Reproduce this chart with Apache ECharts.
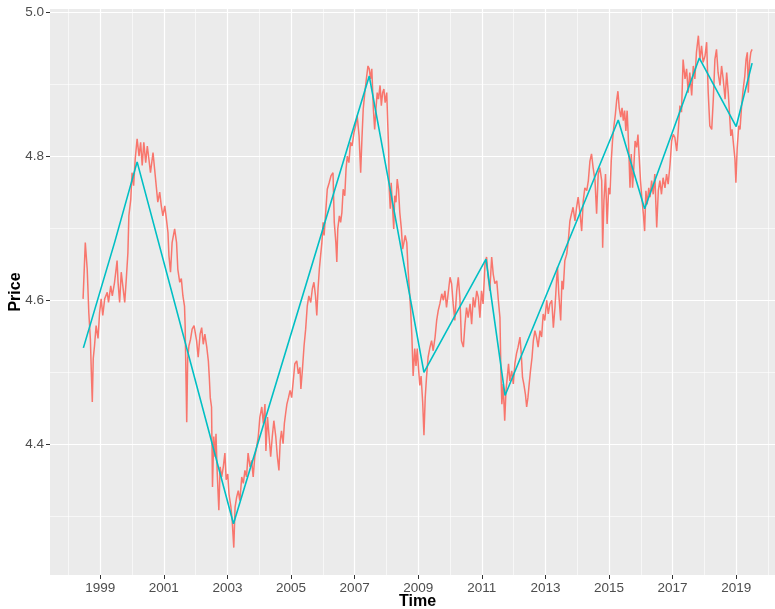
<!DOCTYPE html>
<html>
<head>
<meta charset="utf-8">
<style>
  html, body { margin: 0; padding: 0; background: #fff; }
  #chart { width: 775px; height: 609px; }
</style>
<script src="https://cdn.jsdelivr.net/npm/echarts@6/dist/echarts.min.js"></script>
</head>
<body>
<div id="chart"></div>
<script>
// daily price (roughly every 0.05 yr)
const priceYears = [
  1998.46, 1998.53, 1998.59, 1998.61, 1998.64, 1998.69, 1998.72, 1998.75, 1998.78, 1998.82,
  1998.87, 1998.93, 1998.98, 1999.03, 1999.08, 1999.14, 1999.22, 1999.26, 1999.33, 1999.38,
  1999.45, 1999.53, 1999.56, 1999.61, 1999.66, 1999.71, 1999.77, 1999.82, 1999.87, 1999.90,
  1999.96, 2000.00, 2000.05, 2000.10, 2000.16, 2000.22, 2000.27, 2000.32, 2000.37, 2000.43,
  2000.48, 2000.53, 2000.58, 2000.66, 2000.71, 2000.76, 2000.81, 2000.87, 2000.92, 2000.97,
  2001.03, 2001.08, 2001.13, 2001.16, 2001.21, 2001.26, 2001.34, 2001.40, 2001.44, 2001.50,
  2001.55, 2001.60, 2001.65, 2001.67, 2001.72, 2001.75, 2001.79, 2001.84, 2001.89, 2001.95,
  2002.03, 2002.08, 2002.14, 2002.19, 2002.24, 2002.29, 2002.35, 2002.40, 2002.43, 2002.46,
  2002.50, 2002.53, 2002.57, 2002.61, 2002.64, 2002.68, 2002.73, 2002.77, 2002.82, 2002.87,
  2002.92, 2002.96, 2003.01, 2003.05, 2003.11, 2003.15, 2003.20, 2003.24, 2003.29, 2003.34,
  2003.39, 2003.45, 2003.50, 2003.55, 2003.60, 2003.65, 2003.71, 2003.76, 2003.81, 2003.86,
  2003.92, 2003.97, 2004.02, 2004.08, 2004.13, 2004.18, 2004.21, 2004.26, 2004.31, 2004.36,
  2004.41, 2004.46, 2004.52, 2004.57, 2004.62, 2004.66, 2004.70, 2004.75, 2004.79, 2004.83,
  2004.87, 2004.92, 2004.97, 2005.02, 2005.07, 2005.12, 2005.18, 2005.23, 2005.28, 2005.31,
  2005.36, 2005.41, 2005.46, 2005.51, 2005.56, 2005.62, 2005.67, 2005.72, 2005.77, 2005.81,
  2005.85, 2005.89, 2005.93, 2005.97, 2006.01, 2006.04, 2006.09, 2006.14, 2006.20, 2006.26,
  2006.32, 2006.36, 2006.41, 2006.44, 2006.47, 2006.52, 2006.56, 2006.60, 2006.64, 2006.69,
  2006.73, 2006.77, 2006.82, 2006.87, 2006.92, 2006.98, 2007.03, 2007.08, 2007.14, 2007.19,
  2007.23, 2007.27, 2007.32, 2007.38, 2007.42, 2007.46, 2007.50, 2007.54, 2007.59, 2007.63,
  2007.67, 2007.71, 2007.75, 2007.80, 2007.84, 2007.88, 2007.92, 2007.96, 2008.01, 2008.04,
  2008.07, 2008.09, 2008.12, 2008.15, 2008.20, 2008.23, 2008.26, 2008.30, 2008.34, 2008.38,
  2008.42, 2008.47, 2008.51, 2008.55, 2008.59, 2008.64, 2008.68, 2008.72, 2008.76, 2008.80,
  2008.84, 2008.89, 2008.93, 2008.97, 2009.01, 2009.05, 2009.09, 2009.14, 2009.18, 2009.22,
  2009.26, 2009.31, 2009.37, 2009.42, 2009.47, 2009.53, 2009.58, 2009.63, 2009.68, 2009.74,
  2009.79, 2009.84, 2009.89, 2009.94, 2010.00, 2010.05, 2010.10, 2010.15, 2010.21, 2010.26,
  2010.31, 2010.36, 2010.42, 2010.47, 2010.52, 2010.57, 2010.63, 2010.68, 2010.73, 2010.78,
  2010.84, 2010.89, 2010.94, 2010.99, 2011.04, 2011.10, 2011.15, 2011.20, 2011.25, 2011.31,
  2011.36, 2011.41, 2011.47, 2011.52, 2011.57, 2011.60, 2011.63, 2011.67, 2011.72, 2011.76,
  2011.80, 2011.84, 2011.88, 2011.94, 2011.99, 2012.04, 2012.09, 2012.14, 2012.20, 2012.24,
  2012.28, 2012.32, 2012.37, 2012.41, 2012.45, 2012.49, 2012.53, 2012.58, 2012.62, 2012.67,
  2012.72, 2012.77, 2012.83, 2012.88, 2012.93, 2012.98, 2013.04, 2013.09, 2013.14, 2013.20,
  2013.25, 2013.30, 2013.35, 2013.38, 2013.42, 2013.48, 2013.52, 2013.56, 2013.61, 2013.67,
  2013.72, 2013.77, 2013.82, 2013.87, 2013.93, 2013.98, 2014.03, 2014.09, 2014.14, 2014.19,
  2014.24, 2014.30, 2014.35, 2014.40, 2014.45, 2014.50, 2014.56, 2014.61, 2014.66, 2014.71,
  2014.77, 2014.80, 2014.84, 2014.89, 2014.94, 2014.99, 2015.03, 2015.07, 2015.11, 2015.15,
  2015.20, 2015.24, 2015.28, 2015.32, 2015.37, 2015.41, 2015.45, 2015.49, 2015.53, 2015.57,
  2015.62, 2015.66, 2015.70, 2015.74, 2015.78, 2015.82, 2015.87, 2015.91, 2015.95, 2015.99,
  2016.04, 2016.08, 2016.12, 2016.16, 2016.20, 2016.25, 2016.29, 2016.34, 2016.39, 2016.44,
  2016.50, 2016.55, 2016.60, 2016.65, 2016.70, 2016.76, 2016.81, 2016.86, 2016.92, 2016.97,
  2017.02, 2017.07, 2017.13, 2017.18, 2017.23, 2017.28, 2017.33, 2017.39, 2017.44, 2017.49,
  2017.54, 2017.60, 2017.65, 2017.70, 2017.75, 2017.81, 2017.86, 2017.91, 2017.96, 2018.02,
  2018.07, 2018.12, 2018.17, 2018.23, 2018.28, 2018.33, 2018.38, 2018.43, 2018.49, 2018.54,
  2018.59, 2018.65, 2018.70, 2018.75, 2018.80, 2018.83, 2018.87, 2018.92, 2018.96, 2018.99,
  2019.03, 2019.08, 2019.12, 2019.17, 2019.22, 2019.27, 2019.31, 2019.35, 2019.38, 2019.42,
  2019.46, 2019.50
]
const priceValues = [
  4.602, 4.680, 4.643, 4.620, 4.583, 4.546, 4.500, 4.459, 4.519, 4.537,
  4.565, 4.547, 4.583, 4.602, 4.579, 4.602, 4.611, 4.597, 4.620, 4.606,
  4.625, 4.655, 4.625, 4.597, 4.639, 4.620, 4.597, 4.630, 4.666, 4.717,
  4.740, 4.777, 4.759, 4.796, 4.824, 4.800, 4.819, 4.787, 4.819, 4.791,
  4.814, 4.796, 4.777, 4.805, 4.782, 4.759, 4.736, 4.750, 4.731, 4.717,
  4.731, 4.713, 4.694, 4.662, 4.639, 4.680, 4.699, 4.680, 4.643, 4.625,
  4.630, 4.606, 4.592, 4.565, 4.431, 4.519, 4.537, 4.546, 4.560, 4.565,
  4.544, 4.521, 4.553, 4.562, 4.539, 4.553, 4.535, 4.516, 4.493, 4.465,
  4.452, 4.341, 4.411, 4.383, 4.415, 4.359, 4.309, 4.369, 4.355, 4.369,
  4.388, 4.351, 4.359, 4.331, 4.313, 4.294, 4.257, 4.313, 4.327, 4.336,
  4.322, 4.355, 4.346, 4.364, 4.355, 4.388, 4.369, 4.378, 4.355, 4.383,
  4.397, 4.411, 4.438, 4.452, 4.429, 4.456, 4.391, 4.438, 4.411, 4.383,
  4.411, 4.433, 4.411, 4.383, 4.364, 4.405, 4.419, 4.401, 4.429, 4.443,
  4.456, 4.465, 4.475, 4.465, 4.488, 4.512, 4.516, 4.498, 4.507, 4.477,
  4.505, 4.537, 4.560, 4.592, 4.606, 4.597, 4.616, 4.625, 4.606, 4.579,
  4.616, 4.643, 4.662, 4.680, 4.708, 4.690, 4.722, 4.754, 4.763, 4.773,
  4.777, 4.708, 4.680, 4.653, 4.699, 4.717, 4.708, 4.722, 4.754, 4.745,
  4.782, 4.800, 4.791, 4.819, 4.814, 4.833, 4.842, 4.856, 4.828, 4.777,
  4.824, 4.865, 4.888, 4.911, 4.925, 4.921, 4.907, 4.921, 4.865, 4.837,
  4.865, 4.888, 4.879, 4.898, 4.870, 4.888, 4.893, 4.874, 4.888, 4.847,
  4.810, 4.754, 4.727, 4.763, 4.722, 4.699, 4.745, 4.736, 4.768, 4.754,
  4.722, 4.699, 4.671, 4.680, 4.690, 4.680, 4.643, 4.616, 4.588, 4.551,
  4.495, 4.533, 4.509, 4.533, 4.505, 4.482, 4.495, 4.459, 4.413, 4.465,
  4.493, 4.521, 4.535, 4.544, 4.530, 4.549, 4.572, 4.586, 4.595, 4.609,
  4.600, 4.613, 4.590, 4.609, 4.632, 4.623, 4.595, 4.572, 4.613, 4.632,
  4.604, 4.544, 4.535, 4.567, 4.590, 4.576, 4.595, 4.567, 4.604, 4.590,
  4.613, 4.604, 4.576, 4.613, 4.595, 4.650, 4.660, 4.632, 4.613, 4.660,
  4.636, 4.623, 4.627, 4.600, 4.576, 4.502, 4.456, 4.484, 4.433, 4.475,
  4.493, 4.512, 4.488, 4.502, 4.484, 4.512, 4.526, 4.535, 4.549, 4.526,
  4.493, 4.484, 4.470, 4.452, 4.465, 4.484, 4.502, 4.521, 4.544, 4.558,
  4.549, 4.535, 4.558, 4.549, 4.581, 4.572, 4.600, 4.581, 4.595, 4.600,
  4.562, 4.590, 4.627, 4.646, 4.609, 4.572, 4.627, 4.615, 4.655, 4.664,
  4.683, 4.710, 4.720, 4.729, 4.710, 4.729, 4.743, 4.720, 4.696, 4.738,
  4.756, 4.752, 4.766, 4.793, 4.803, 4.784, 4.766, 4.720, 4.775, 4.784,
  4.766, 4.673, 4.738, 4.775, 4.706, 4.756, 4.747, 4.793, 4.821, 4.840,
  4.858, 4.877, 4.890, 4.867, 4.854, 4.867, 4.849, 4.863, 4.835, 4.863,
  4.812, 4.756, 4.803, 4.756, 4.784, 4.821, 4.812, 4.830, 4.798, 4.766,
  4.738, 4.720, 4.696, 4.752, 4.733, 4.756, 4.743, 4.766, 4.747, 4.775,
  4.701, 4.752, 4.766, 4.747, 4.770, 4.756, 4.775, 4.761, 4.789, 4.821,
  4.830, 4.826, 4.807, 4.837, 4.870, 4.861, 4.934, 4.907, 4.921, 4.888,
  4.916, 4.884, 4.925, 4.907, 4.944, 4.967, 4.934, 4.953, 4.930, 4.939,
  4.958, 4.888, 4.842, 4.837, 4.879, 4.934, 4.948, 4.916, 4.898, 4.925,
  4.907, 4.879, 4.916, 4.888, 4.851, 4.828, 4.837, 4.814, 4.796, 4.763,
  4.810, 4.842, 4.837, 4.870, 4.893, 4.911, 4.934, 4.944, 4.888, 4.930,
  4.944, 4.948
]

// piecewise linear trend
const trendYears = [1998.47, 1999.45, 2000.16, 2003.19, 2007.46, 2009.18, 2011.13, 2011.73, 2015.29, 2016.12, 2017.84, 2019.00, 2019.50]
const trendValues = [4.534, 4.680, 4.792, 4.290, 4.911, 4.500, 4.657, 4.468, 4.850, 4.727, 4.936, 4.841, 4.929]

// axis ticks
const xMajorTicks = [1999, 2001, 2003, 2005, 2007, 2009, 2011, 2013, 2015, 2017, 2019]
const xMinorTicks = [1998, 2000, 2002, 2004, 2006, 2008, 2010, 2012, 2014, 2016, 2018, 2020]
const yMajorTicks = [4.4, 4.6, 4.8, 5.0]
const yMinorTicks = [4.3, 4.5, 4.7, 4.9]

const X_MIN = 1997.42
const X_MAX = 2020.22
const Y_MIN = 4.219
const Y_MAX = 5.004

const FONT = 'Liberation Sans, Arial, sans-serif'

const chart = echarts.init(document.getElementById('chart'))

const majorLine = { show: true, lineStyle: { color: '#FFFFFF', width: 1.2 } }
const minorLine = { show: true, lineStyle: { color: '#FFFFFF', width: 0.6 } }

const option = {
  animation: false,
  backgroundColor: '#FFFFFF',
  grid: {
    left: 50,
    right: 0,
    top: 9,
    bottom: 34,
    outerBoundsMode: 'none',
    containLabel: false,
    show: true,
    backgroundColor: '#EBEBEB',
    borderWidth: 0
  },
  xAxis: [{
    type: 'value',
    min: X_MIN,
    max: X_MAX,
    name: 'Time',
    nameLocation: 'middle',
    nameGap: 19,
    nameMoveOverlap: false,
    nameTextStyle: {
      fontFamily: FONT,
      fontSize: 16,
      fontWeight: 'bold',
      color: '#000000',
      padding: [0, 0, 0, 10]
    },
    axisLine: { show: false },
    axisTick: {
      show: true,
      length: 4,
      customValues: xMajorTicks,
      lineStyle: { color: '#333333', width: 1 }
    },
    axisLabel: {
      customValues: xMajorTicks,
      margin: 6,
      fontFamily: FONT,
      fontSize: 13.5,
      color: '#4D4D4D',
      formatter: v => String(v)
    },
    splitLine: majorLine
  }, {
    type: 'value',
    min: X_MIN,
    max: X_MAX,
    axisLine: { show: false },
    axisTick: { show: false, customValues: xMinorTicks },
    axisLabel: { show: false, customValues: xMinorTicks },
    splitLine: minorLine
  }],
  yAxis: [{
    type: 'value',
    min: Y_MIN,
    max: Y_MAX,
    name: 'Price',
    nameLocation: 'middle',
    nameGap: 26,
    nameRotate: 90,
    nameMoveOverlap: false,
    nameTextStyle: {
      fontFamily: FONT,
      fontSize: 16,
      fontWeight: 'bold',
      color: '#000000'
    },
    axisLine: { show: false },
    axisTick: {
      show: true,
      length: 4,
      customValues: yMajorTicks,
      lineStyle: { color: '#333333', width: 1 }
    },
    axisLabel: {
      customValues: yMajorTicks,
      margin: 6,
      fontFamily: FONT,
      fontSize: 13.5,
      color: '#4D4D4D',
      formatter: v => v.toFixed(1)
    },
    splitLine: majorLine
  }, {
    type: 'value',
    min: Y_MIN,
    max: Y_MAX,
    axisLine: { show: false },
    axisTick: { show: false, customValues: yMinorTicks },
    axisLabel: { show: false, customValues: yMinorTicks },
    splitLine: minorLine
  }],
  series: [{
    name: 'Price',
    type: 'line',
    xAxisIndex: 0,
    yAxisIndex: 0,
    data: priceYears.map((y, i) => [y, priceValues[i]]),
    showSymbol: false,
    symbol: 'none',
    lineStyle: { color: '#F8766D', width: 1.5 },
    z: 3
  }, {
    name: 'Trend',
    type: 'line',
    xAxisIndex: 0,
    yAxisIndex: 0,
    data: trendYears.map((y, i) => [y, trendValues[i]]),
    showSymbol: false,
    symbol: 'none',
    lineStyle: { color: '#00BFC4', width: 1.6 },
    z: 4
  }]
}

chart.setOption(option)
</script>
</body>
</html>
